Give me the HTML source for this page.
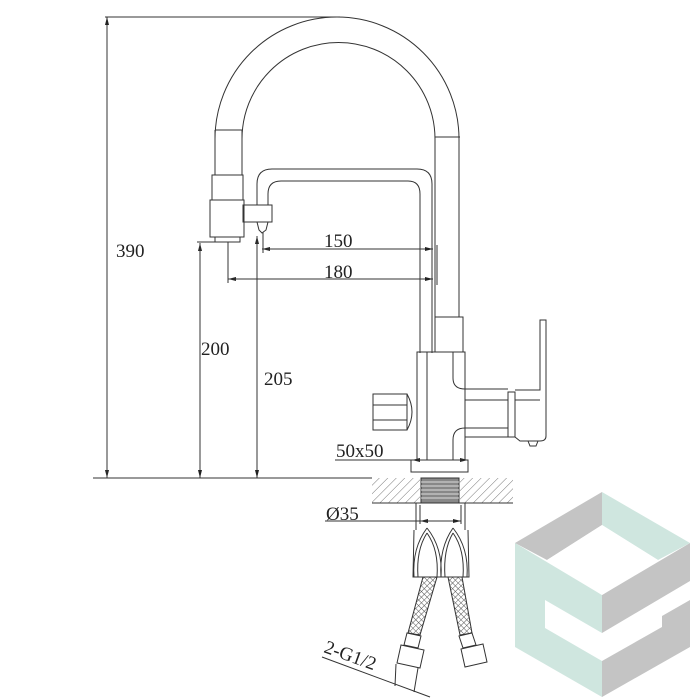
<!DOCTYPE html>
<html><head><meta charset="utf-8"><style>
html,body{margin:0;padding:0;background:#fff;width:700px;height:700px;overflow:hidden}
svg text{font-family:"Liberation Serif",serif;font-size:19px;fill:#222}
</style></head><body>
<svg width="700" height="700" viewBox="0 0 700 700" xmlns="http://www.w3.org/2000/svg">
<defs>
<pattern id="hatch" width="6" height="6" patternUnits="userSpaceOnUse" patternTransform="rotate(45)">
<line x1="0" y1="0" x2="0" y2="6" stroke="#555" stroke-width="0.8"/></pattern>
<pattern id="braid" width="4" height="4" patternUnits="userSpaceOnUse" patternTransform="rotate(45)">
<rect width="4" height="4" fill="#fff"/><line x1="0" y1="0" x2="0" y2="4" stroke="#555" stroke-width="1"/><line x1="0" y1="0" x2="4" y2="0" stroke="#555" stroke-width="1"/></pattern>
<marker id="ar" markerWidth="8" markerHeight="6" refX="8" refY="3" orient="auto"><path d="M0,1 L8,3 L0,5 z" fill="#222"/></marker>
</defs>
<!-- logo -->
<polygon points="515,543 602,595 602,697 515,647" fill="#cfe6df"/>
<polygon points="602,595 690,543 690,647 602,697" fill="#c4c4c4"/>
<polygon points="515,543 602,492 602,525 547,560" fill="#c4c4c4"/>
<polygon points="602,492 690,543 658,560 602,525" fill="#cfe6df"/>
<polygon points="602,525 658,560 602,595 547,560" fill="#fff"/>
<polygon points="545,600 602,633 602,661 545,628" fill="#fff"/>
<polygon points="602,633 690,581 690,600 662,616 662,627 602,661" fill="#fff"/>

<g fill="none" stroke="#333" stroke-width="1">
<line x1="105" y1="17" x2="340" y2="17"/>
<line x1="107" y1="17" x2="107" y2="478" marker-end="url(#ar)"/>
<line x1="107" y1="478" x2="107" y2="17" marker-end="url(#ar)"/>
<line x1="93" y1="478" x2="372" y2="478"/>
<path d="M215,130 L215,139 A122,122 0 0 1 459,139 L459,317"/>
<path d="M242,130 L242,139 A96,96 0 0 1 435,139 L435,317"/>
<line x1="215" y1="130" x2="242" y2="130"/>
<line x1="435" y1="137" x2="460" y2="137"/>
<path d="M215,130 L215,175 M242,130 L242,175"/>
<rect x="212" y="175" width="31" height="25"/>
<rect x="210" y="200" width="34" height="37"/>
<rect x="215" y="237" width="25" height="5"/>
<rect x="243" y="205" width="29" height="17"/>
<path d="M257,222 L268,222 L266,230 L262,233 L259,230 Z"/>
<path d="M257,205 L257,184 Q257,169 272,169 L417,169 Q432,169 432,184 L432,353"/>
<path d="M268,205 L268,194 Q268,181 281,181 L408,181 Q420,181 420,194 L420,353"/>
<rect x="435" y="317" width="28" height="35"/>
<line x1="433" y1="249" x2="262" y2="249" marker-end="url(#ar)"/>
<line x1="262" y1="249" x2="433" y2="249" marker-end="url(#ar)"/>
<line x1="433" y1="279" x2="228" y2="279" marker-end="url(#ar)"/>
<line x1="228" y1="279" x2="433" y2="279" marker-end="url(#ar)"/>
<line x1="437" y1="245" x2="437" y2="285"/>
<line x1="263" y1="232" x2="263" y2="253"/>
<line x1="228" y1="242" x2="228" y2="283"/>
<line x1="197" y1="242" x2="215" y2="242"/>
<line x1="200" y1="478" x2="200" y2="243" marker-end="url(#ar)"/>
<line x1="200" y1="243" x2="200" y2="478" marker-end="url(#ar)"/>
<line x1="257" y1="478" x2="257" y2="236" marker-end="url(#ar)"/>
<line x1="257" y1="236" x2="257" y2="478" marker-end="url(#ar)"/>
<rect x="417" y="352" width="48" height="108"/>
<line x1="427" y1="352" x2="427" y2="460"/>
<rect x="373" y="394" width="34" height="36"/>
<line x1="373" y1="405" x2="407" y2="405"/>
<line x1="373" y1="420" x2="407" y2="420"/>
<path d="M407,394 Q417,412 407,430"/>
<path d="M453,352 L453,378 Q453,389 465,389 L508,389"/>
<path d="M465,400 L508,400"/>
<path d="M453,460 L453,440 Q453,428 465,428 L508,428"/>
<path d="M465,437 L508,437"/>
<rect x="508" y="392" width="7" height="45"/>
<path d="M515,390 L540,390 L540,320 L546,320 L546,436 Q546,441 540,441 L520,441 L515,437"/>
<path d="M540,400 L515,400"/>
<path d="M528,441 L530,446 L536,446 L538,441"/>
<line x1="335" y1="460" x2="412" y2="460"/>
<line x1="468" y1="460" x2="412" y2="460" marker-end="url(#ar)"/>
<line x1="412" y1="460" x2="468" y2="460" marker-end="url(#ar)"/>
<rect x="411" y="460" width="57" height="12"/>
<rect x="372" y="478" width="48" height="25" fill="url(#hatch)" stroke="none"/>
<rect x="460" y="478" width="53" height="25" fill="url(#hatch)" stroke="none"/>
<line x1="372" y1="503" x2="513" y2="503"/>
<rect x="421" y="478" width="38" height="25" fill="#888" stroke="#333"/>
<path d="M421,482 H459 M421,486 H459 M421,490 H459 M421,494 H459 M421,498 H459" stroke="#ddd"/>
<line x1="416" y1="503" x2="416" y2="530"/>
<line x1="465" y1="503" x2="465" y2="530"/>
<line x1="325" y1="521" x2="420" y2="521"/>
<line x1="461" y1="521" x2="420" y2="521" marker-end="url(#ar)"/>
<line x1="420" y1="521" x2="461" y2="521" marker-end="url(#ar)"/>
<line x1="420" y1="505" x2="420" y2="524"/>
<line x1="461" y1="505" x2="461" y2="524"/>
<path d="M414,530 L413,577 L469,577 L468,530"/>
<path d="M427,528 Q412,548 414,577 M427,528 Q443,548 441,577"/>
<path d="M427,533 Q416,550 418,577 M427,533 Q439,550 437,577"/>
<path d="M453,528 Q439,548 441,577 M453,528 Q469,548 467,577"/>
<path d="M453,533 Q443,550 445,577 M453,533 Q465,550 463,577"/>
</g>
<g stroke="#333" stroke-width="1">
<polygon points="423,577 437,577 420,635 408,633" fill="url(#braid)"/>
<polygon points="448,577 462,577 472,633 460,635" fill="url(#braid)"/>
<polygon points="407,633 421,636 418,648 404,645" fill="#fff"/>
<polygon points="459,636 472,633 476,645 463,648" fill="#fff"/>
<polygon points="401,645 424,650 420,668 397,663" fill="#fff"/>
<polygon points="461,649 483,644 487,662 465,667" fill="#fff"/>
<line x1="396" y1="664" x2="395" y2="686" fill="none"/>
<line x1="418" y1="668" x2="414" y2="692" fill="none"/>
<line x1="322" y1="657" x2="430" y2="697"/>
</g>
<text x="116" y="257">390</text>
<text x="201" y="355">200</text>
<text x="264" y="385">205</text>
<text x="324" y="247">150</text>
<text x="324" y="278">180</text>
<text x="336" y="457">50x50</text>
<text x="326" y="520">Ø35</text>
<text x="0" y="0" transform="translate(323,652) rotate(20)">2-G1/2</text>
</svg>
</body></html>
